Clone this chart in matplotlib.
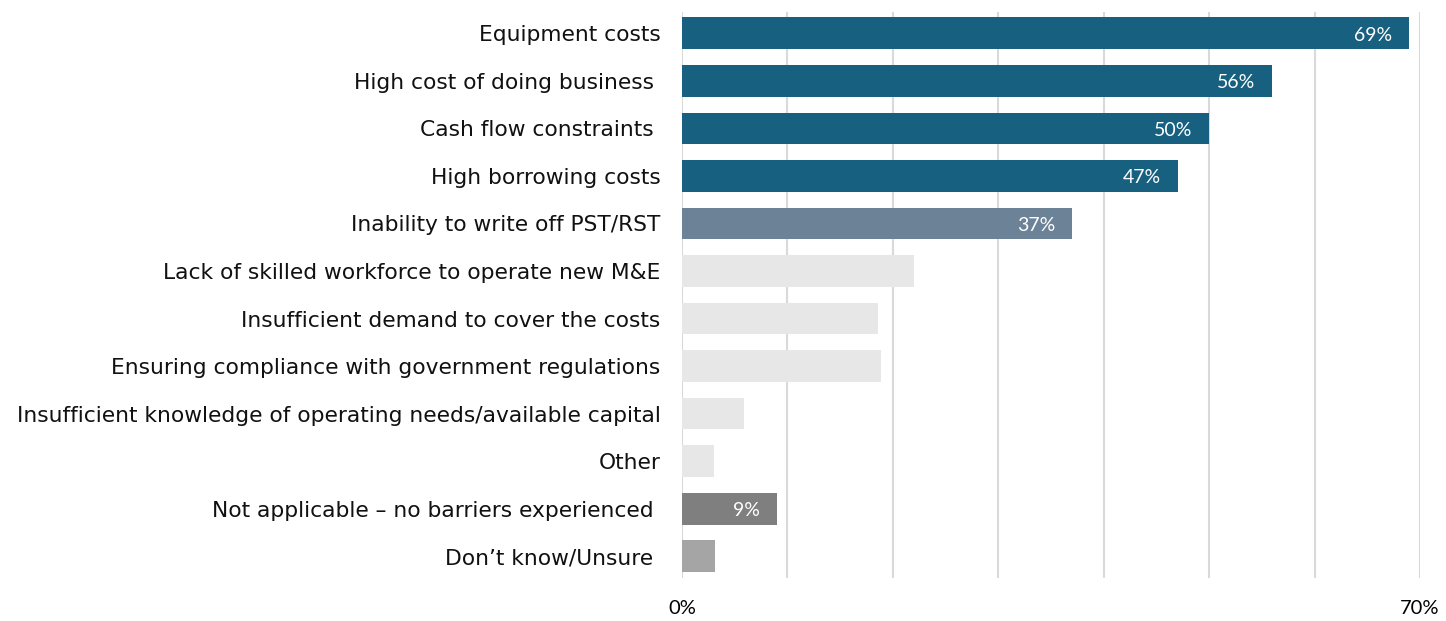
import matplotlib
matplotlib.use("Agg")
import matplotlib.pyplot as plt

categories = [
    "Equipment costs",
    "High cost of doing business ",
    "Cash flow constraints ",
    "High borrowing costs",
    "Inability to write off PST/RST",
    "Lack of skilled workforce to operate new M&E",
    "Insufficient demand to cover the costs",
    "Ensuring compliance with government regulations",
    "Insufficient knowledge of operating needs/available capital",
    "Other",
    "Not applicable \u2013 no barriers experienced ",
    "Don\u2019t know/Unsure ",
]
values = [69, 56, 50, 47, 37, 22, 18.6, 18.9, 5.9, 3, 9, 3.1]
shown = ["69%", "56%", "50%", "47%", "37%", "", "", "", "", "", "9%", ""]
colors = ["#17607f"] * 4 + ["#6c8297"] + ["#e7e7e7"] * 5 + ["#7f7f7f", "#a5a5a5"]

fig = plt.figure(figsize=(14.46, 6.21), dpi=100)
ax = fig.add_axes([682 / 1446, 1 - 578 / 621, (1420 - 682) / 1446, (578 - 12) / 621])

ypos = list(range(len(categories)))
ax.barh(ypos, values, height=0.67, color=colors, zorder=3)

for y, v, s in zip(ypos, values, shown):
    if s:
        ax.text(v - 1.6, y + 0.04, s, color="white", ha="right", va="center",
                fontsize=14, family=["Lato", "DejaVu Sans"], zorder=4)

ax.set_xlim(0, 70)
ax.set_ylim(11.46, -0.45)
ax.set_yticks(ypos)
ax.set_yticklabels(categories, fontsize=15.7, family=["DejaVu Sans"], color="#111111")
ax.set_xticks([0, 70])
ax.set_xticklabels(["0%", "70%"], fontsize=14.5, family=["Lato", "DejaVu Sans"])
for g in range(0, 71, 10):
    ax.axvline(g, color="#d9d9d9", lw=1.5, zorder=1)
ax.tick_params(axis="y", length=0, pad=15.5)
ax.tick_params(axis="x", length=0, pad=16)
for sp in ax.spines.values():
    sp.set_visible(False)

plt.savefig("out.png", dpi=100)
